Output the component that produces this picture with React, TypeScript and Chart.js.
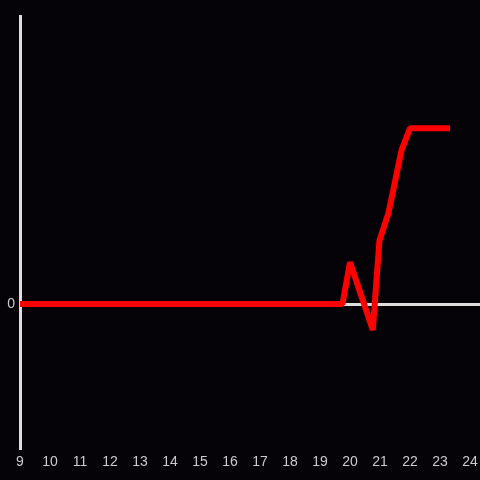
import React, { useEffect, useRef } from "react";
import { Chart, registerables } from "chart.js";

Chart.register(...registerables);

const xValues = [9, 19.75, 20, 20.76, 20.98, 21.28, 21.72, 22, 23.33];
const yValues = [0, 0, 0.29, -0.18, 0.44, 0.63, 1.07, 1.22, 1.22];
const xTickValues = [9, 10, 11, 12, 13, 14, 15, 16, 17, 18, 19, 20, 21, 22, 23, 24];

const BG = "#050307";
const AXIS = "#dddddd";
const LABEL = "#cccccc";

export default function App() {
  const ref = useRef<HTMLCanvasElement | null>(null);
  useEffect(() => {
    document.body.style.margin = "0";
    document.body.style.background = BG;
    const bgPlugin = {
      id: "bg",
      beforeDraw(chart: any) {
        const { ctx, width, height } = chart;
        ctx.save();
        ctx.fillStyle = BG;
        ctx.fillRect(0, 0, width, height);
        ctx.restore();
      },
    };
    const chart = new Chart(ref.current as HTMLCanvasElement, {
      type: "line",
      data: {
        datasets: [
          {
            data: xValues.map((x, i) => ({ x, y: yValues[i] })),
            borderColor: "#ff0000",
            borderWidth: 6,
            borderJoinStyle: "bevel",
            pointRadius: 0,
            tension: 0,
            fill: false,
          },
        ],
      },
      options: {
        animation: false,
        responsive: false,
        maintainAspectRatio: false,
        layout: { padding: { top: 16, left: 0, right: 0, bottom: 0 } },
        plugins: { legend: { display: false }, tooltip: { enabled: false } },
        scales: {
          x: {
            type: "linear",
            min: 9,
            max: 24.333,
            afterBuildTicks: (scale: any) => {
              scale.ticks = xTickValues.map((v) => ({ value: v }));
            },
            afterFit: (scale: any) => {
              scale.height = 32;
              scale.paddingRight = 0;
              scale.paddingLeft = 0;
            },
            grid: { display: false, drawTicks: false },
            border: { display: false },
            ticks: {
              color: LABEL,
              font: { size: 14, family: "Liberation Sans, Arial, sans-serif" },
              padding: 6,
              maxRotation: 0,
              autoSkip: false,
            },
          },
          y: {
            type: "linear",
            min: -1,
            max: 2,
            afterBuildTicks: (scale: any) => {
              scale.ticks = [{ value: 0 }];
            },
            afterFit: (scale: any) => {
              scale.width = 20;
              scale.paddingTop = 0;
              scale.paddingBottom = 0;
            },
            grid: {
              drawTicks: false,
              color: (c: any) => (c.tick && c.tick.value === 0 ? AXIS : "rgba(0,0,0,0)"),
              lineWidth: 3,
            },
            border: { display: true, color: AXIS, width: 3 },
            ticks: {
              color: LABEL,
              font: { size: 14, family: "Liberation Sans, Arial, sans-serif" },
              padding: 5,
            },
          },
        },
      },
      plugins: [bgPlugin],
    });
    return () => chart.destroy();
  }, []);
  return (
    <div style={{ width: 480, height: 480, background: BG }}>
      <canvas ref={ref} width={480} height={480} style={{ display: "block" }} />
    </div>
  );
}
